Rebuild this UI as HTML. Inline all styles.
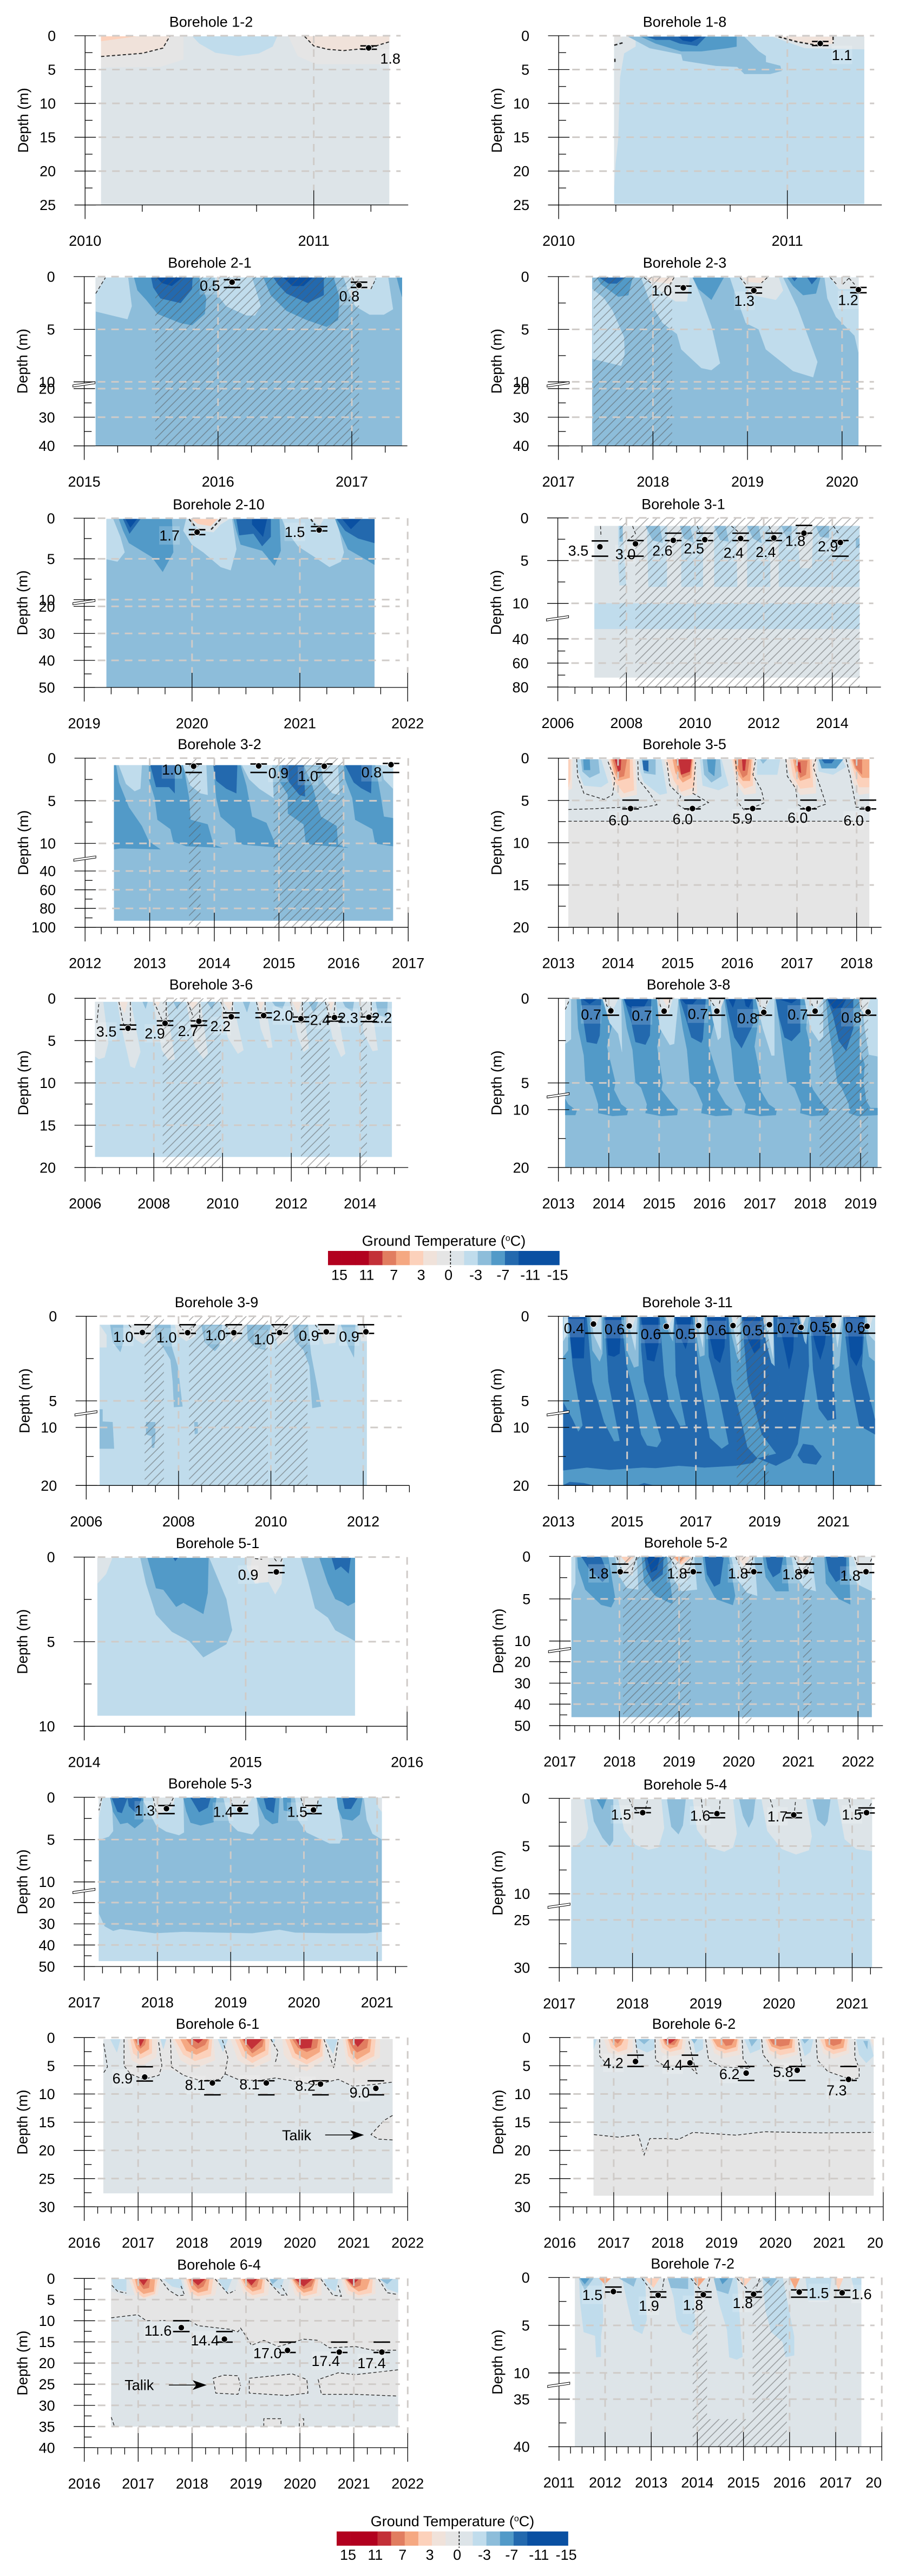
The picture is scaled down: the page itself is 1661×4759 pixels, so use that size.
<!DOCTYPE html>
<html lang="en">
<head>
<meta charset="utf-8">
<title>Borehole ground temperature</title>
<style>
html,body{margin:0;padding:0;background:#fff;width:1661px;height:4759px;overflow:hidden}
svg{display:block;font-family:"Liberation Sans",sans-serif}
text{fill:#000}
</style>
</head>
<body>
<svg id="fig" xmlns="http://www.w3.org/2000/svg" width="1661" height="4759" viewBox="0 0 1661 4759">
<defs>
<pattern id="hatch" patternUnits="userSpaceOnUse" width="11.5" height="11.5" patternTransform="rotate(-45)">
<line x1="0" y1="5.7" x2="11.5" y2="5.7" stroke="#555" stroke-opacity="0.5" stroke-width="1.6"></line>
</pattern>
</defs>
</svg>
<script>
/* Time values are years since the start of each panel's axis; depths are metres. Bands: [temperature, [t,d,t,d,...]] */
const legendTemps=[16,14,12,10,8,6,4,2,0.5,-0.5,-2,-4,-6,-8,-10,-12,-14];
const legendColors=['#b2011f','#b2011f','#b2011f','#c33038','#e17d60','#f5a882','#fcd1bb','#f0e2da','#e5e5e5','#dde4e8','#c0dcec','#8dbdda','#529ac8','#2369ae','#0a50a2','#0a50a2','#0a50a2'];
const legendTicks=['15','11','7','3','0','-3','-7','-11','-15'];

/* Borehole 1-2 */
const b12XTicks=[2010,2011];
const b12YTicks=[0,5,10,15,20,25];
const b12YMinor=[2.5,7.5,12.5,17.5,22.5];
const b12Knots=[0,25];
const b12KnotPos=[0,1];
const b12Bands=[[-0.5,[.07,.1,1.33,.1,1.33,25,.07,25]],
[0.5,[.07,.1,.43,.1,.43,3.5,.33,4.6,.07,4.7]],
[2,[.07,.1,.37,.1,.34,1.83,.25,2.6,.07,3.07]],
[4,[.07,.1,.22,.1,.07,.8]],
[-2,[.47,.1,.84,.1,.82,1.6,.76,2.6,.67,3,.57,2.5,.5,1.15]],
[0.5,[.89,.1,1.33,.1,1.33,4.2,1.01,4.2,.93,3]],
[2,[.96,.1,1.33,.1,1.33,.9,1.24,1.83,1.13,2.2,1.06,2,1,1.5]]];
const b12Hatch=[];
const b12Iso=[[.07,3.07,.25,2.6,.34,1.83,.37,.1],[.96,.1,1,1.5,1.06,2,1.13,2.2,1.24,1.83,1.33,.9]];
const b12AltYear=[1.24];
const b12AltDepth=[1.8];
const b12AltTop=[1.5];
const b12AltBase=[2];
const b12AltText=['1.8'];
const b12LabelDx=[40];
const b12LabelDy=[19.5];

/* Borehole 1-8 */
const b18XTicks=[2010,2011];
const b18YTicks=[0,5,10,15,20,25];
const b18YMinor=[2.5,7.5,12.5,17.5,22.5];
const b18Knots=[0,25];
const b18KnotPos=[0,1];
const b18Bands=[[-2,[.243,.15,1.336,.15,1.336,24.85,.243,24.85]],
[-0.5,[.243,.15,.336,.15,.336,1.6,.286,2.6,.268,6.2,.26,15.4,.248,19,.243,22.2]],
[0.5,[.243,.15,.28,.15,.243,1.4]],
[-4,[.305,.15,.812,.15,.875,2.3,.906,3,.906,3.9,.969,4.45,.975,5.2,.925,5.65,.812,5.65,.781,4.6,.687,4.45,.543,3.67,.536,2.75,.398,1.83,.336,.7]],
[-6,[.361,.15,.778,.15,.778,1.6,.737,1.83,.624,2.3,.536,2.3,.424,1.15]],
[-8,[.386,.15,.643,.15,.605,1.5,.53,1.15,.486,.6,.424,.6]],
[-10,[.524,.15,.624,.15,.58,.9,.543,.7]],
[-0.5,[.937,.15,1.336,.15,1.336,2,1.075,1.83,1,.9]],
[2,[.962,.15,1.2,.15,1.2,1.15,1.144,1.5,1.044,.9]]];
const b18Hatch=[];
const b18Iso=[[.962,.15,1.044,.9,1.144,1.5],[1.2,.15,1.2,1.15],[.243,1.4,.28,1.05],[.246,3.4,.246,4.1]];
const b18AltYear=[1.144];
const b18AltDepth=[1.15];
const b18AltTop=[.85];
const b18AltBase=[1.45];
const b18AltText=['1.1'];
const b18LabelDx=[40];
const b18LabelDy=[21];

/* Borehole 2-1 */
const b21XTicks=[2015,2016,2017];
const b21YTicks=[0,5,10,20,30,40];
const b21YMinor=[2.5,7.5,25,35];
const b21Knots=[0,5,10,20,30,40];
const b21KnotPos=[0,.312,.622,.662,.831,1];
const b21Bands=[[-4,[.086,.1,2.375,.1,2.375,40,.086,40]],
[-2,[.086,.1,.328,.1,.355,2.8,.323,4.03,.086,3.3]],
[-0.5,[.086,.1,.158,.1,.086,1.6]],
[-6,[.373,.1,.859,.1,.912,2.06,.901,3.53,.805,4.6,.72,4.4,.548,3.53,.463,2.2,.398,1.3]],
[-8,[.501,.1,.809,.1,.805,1.18,.72,2.5,.57,2.06,.516,1.03]],
[-10,[.544,.1,.73,.1,.655,.88,.58,.6]],
[-2,[.976,.1,1.255,.1,1.319,2.8,1.276,3.68,1.212,3.68,1.062,2.8,.998,1.76]],
[-6,[1.34,.1,1.865,.1,1.908,2.06,1.897,4.1,1.812,4.76,1.662,4.1,1.512,3.24,1.394,1.76]],
[-8,[1.415,.1,1.79,.1,1.79,1.76,1.672,2.5,1.512,1.6,1.448,.73]],
[-10,[1.49,.1,1.705,.1,1.64,.88,1.555,.88]],
[-2,[1.94,.1,2.272,.1,2.308,3.09,2.24,3.6,2.133,3.6,2.026,2.8,1.972,1.32]],
[-6,[2.336,.1,2.375,.1,2.375,1.9,2.358,1.18]],
[-0.5,[2.004,.1,2.176,.1,2.143,1.18,2.036,1.18]]];
const b21Hatch=[[.531,2.054,0,40]];
const b21Iso=[[.086,1.6,.158,.1],[2.004,.1,2.036,.9],[2.143,1.18,2.18,.2]];
const b21AltYear=[1.105,2.054];
const b21AltDepth=[.53,.82];
const b21AltTop=[.3,.53];
const b21AltBase=[1.03,1.03];
const b21AltText=['0.5','0.8'];
const b21LabelDx=[-41,-18];
const b21LabelDy=[6,20];

/* Borehole 2-3 */
const b23XTicks=[2017,2018,2019,2020];
const b23YTicks=[0,5,10,20,30,40];
const b23YMinor=[2.5,7.5,25,35];
const b23Knots=[0,5,10,20,30,40];
const b23KnotPos=[0,.312,.622,.662,.831,1];
const b23Bands=[[-4,[.358,.1,3.173,.1,3.173,40,.358,40]],
[-2,[.36,1.18,.482,2.06,.573,3.24,.694,5.74,.7,7.35,.664,8.47,.36,7.8]],
[-2,[.876,.1,1.421,.1,1.512,2.06,1.618,4.7,1.709,8.24,1.618,8.88,1.512,8.68,1.3,6.9,1.255,5.44,1.103,4.4,.967,2.35]],
[-2,[1.815,.1,2.376,.1,2.527,2.94,2.739,8.1,2.694,9.56,2.482,8.97,2.194,6.9,2.118,5,1.982,4.4,1.876,1.76]],
[-2,[2.815,.1,3.173,.1,3.173,7.2,3.133,5.6,2.936,3.82,2.845,2.06]],
[-0.5,[.906,.1,1.39,.1,1.36,2.35,1.24,2.35,.997,.88]],
[2,[.936,.1,1.224,.1,1.19,.7,.99,.45]],
[-0.5,[1.921,.1,2.33,.1,2.376,1.32,2.3,2.2,2.058,1.76,1.967,.88]],
[2,[1.95,.1,2.2,.1,2.15,.6,2,.5]],
[-0.5,[2.876,.1,3.173,.1,3.173,1.18,2.967,1.18]],
[-6,[.406,.1,.785,.1,.739,1.76,.633,1.9,.452,.73]],
[-8,[.436,.1,.694,.1,.618,.65,.527,.65]],
[-6,[1.421,.1,1.748,.1,1.618,2.2,1.482,1.18]],
[-6,[2.421,.1,2.77,.1,2.724,1.6,2.588,1.76,2.482,.88]],
[-8,[2.467,.1,2.527,.1,2.497,.44]],
[-8,[2.633,.1,2.74,.1,2.68,.73]]];
const b23Hatch=[[.373,1.203,0,40]];
const b23Iso=[[.906,.09,.997,.74],[1.224,.09,1.179,.74],[1.921,.09,1.982,.74],[2.209,.09,2.148,.59],[2.876,.09,2.952,.82],[3.073,.15,2.997,.82],[3.073,.15,3.133,.74]];
const b23AltYear=[1.321,2.067,3.173];
const b23AltDepth=[1.06,1.32,1.24];
const b23AltTop=[.9,1.03,1.03];
const b23AltBase=[1.53,1.56,1.53];
const b23AltText=['1.0','1.3','1.2'];
const b23LabelDx=[-40,-17.5,-19];
const b23LabelDy=[5,19,19];

/* Borehole 2-10 */
const b210XTicks=[2019,2020,2021,2022];
const b210YTicks=[0,5,10,20,30,40,50];
const b210YMinor=[2.5,7.5,25,35,45];
const b210Knots=[0,5,10,20,30,40,50];
const b210KnotPos=[0,.24,.481,.521,.681,.84,1];
const b210Bands=[[-4,[.207,.1,2.692,.1,2.692,50,.207,50]],
[-2,[.207,.1,.268,.1,.335,2.3,.375,4.2,.308,5.34,.207,5.04]],
[-2,[.919,1.53,.946,.1,1.371,.1,1.411,3.82,1.358,6.4,1.265,6,1.105,4.2,.999,3.24]],
[-2,[1.836,.1,2.341,.1,2.408,4.2,2.381,5.34,2.275,6,2.115,4.58,1.982,3.44,1.876,1.53]],
[-6,[.322,.1,.813,.1,.826,4.2,.728,6.6,.627,4.77,.415,3.05,.361,1.53]],
[-8,[.361,.1,.521,.1,.42,1.9]],
[-10,[.383,.1,.489,.1,.428,1.15]],
[-6,[1.385,.1,1.81,.1,1.823,4,1.765,5.84,1.65,4,1.451,3.24,1.411,1.53]],
[-8,[1.411,.1,1.73,.1,1.73,2.29,1.65,3.44,1.57,1.9,1.438,2.1]],
[-10,[1.557,.1,1.695,.1,1.658,2.29,1.557,.76]],
[-6,[2.328,.1,2.692,.1,2.692,5.73,2.607,5.04,2.447,3.82,2.368,1.53]],
[-8,[2.341,.1,2.692,.1,2.692,3.05,2.54,2.48,2.42,1.53]],
[-10,[2.394,.1,2.567,.1,2.474,1.34]],
[-0.5,[.973,.1,1.345,.1,1.265,.76,1.199,1.72,1.079,1.53]],
[4,[.999,.1,1.238,.1,1.172,.95,1.052,.69]],
[-0.5,[2.102,.1,2.222,.1,2.182,.95]]];
const b210Hatch=[];
const b210Iso=[[.973,.11,1.025,.95],[1.265,.11,1.172,1.45],[2.102,.11,2.142,.84]];
const b210AltYear=[1.047,2.179];
const b210AltDepth=[1.72,1.45];
const b210AltTop=[1.41,1.03];
const b210AltBase=[2.02,1.56];
const b210AltText=['1.7','1.5'];
const b210LabelDx=[-51,-45];
const b210LabelDy=[6,3.5];

/* Borehole 3-1 */
const b31XTicks=[2006,2008,2010,2012,2014];
const b31YTicks=[0,5,10,40,60,80];
const b31YMinor=[2.5,7.5,50,70];
const b31Knots=[0,5,10,40,60,80];
const b31KnotPos=[0,.252,.505,.715,.858,1];
const b31Bands=[[-0.5,[1.069,.95,8.793,.95,8.793,72,1.069,72]],
[-2,[1.069,10,8.793,10,8.793,31.6,1.069,31.6]],
[-2,[1.76,.95,1.88,.95,1.99,7.9,1.8,7.9,1.76,5.5]],
[-2,[2.6,.95,3.18,.95,3.18,8.07,2.64,8.07]],
[-2,[3.6,.95,4.23,.95,4.23,8.07,3.6,8.07]],
[-2,[4.56,.95,5.19,.95,5.23,8.07,4.56,8.07]],
[-2,[5.52,.95,6.19,.95,6.19,8.07,5.52,8.07]],
[-2,[6.44,.95,8.79,.95,8.79,8.07,6.44,8.07]],
[-0.5,[6.98,.95,7.44,.95,7.4,5.88,7.06,5.88]],
[-4,[1.8,.95,1.89,.95,1.89,2.77,1.8,2.77]],
[-4,[2.56,.95,2.97,.95,3.06,2.96,2.76,2.6]],
[-4,[3.56,.95,3.85,.95,3.97,2.96,3.68,2.4]],
[-4,[4.56,.95,4.89,.95,4.98,2.77,4.73,2.6]],
[-4,[5.52,.95,5.85,.95,5.94,2.96,5.69,2.4]],
[-4,[6.52,.95,6.81,.95,6.81,2.77,6.65,2.2]],
[-4,[7.52,.95,7.9,.95,7.9,2.4,7.65,2.2]],
[-4,[8.69,2.4,8.79,2.4,8.79,3.5,8.69,3.5]]];
const b31Hatch=[[1.8,1.99,0,80],[2.26,8.8,0,80]];
const b31Iso=[[1.244,.95,1.26,2.23],[2.18,.95,2.263,1.86,2.054,2.59],[4.06,.95,4.14,1.68],[5.06,.95,5.27,1.68],[6.15,.95,6.27,1.86],[8.03,.95,8.19,1.86]];
const b31AltYear=[1.228,2.263,3.365,4.284,5.328,6.296,7.173,8.234];
const b31AltDepth=[3.39,3.03,2.63,2.55,2.41,2.34,1.79,2.88];
const b31AltTop=[2.7,2.66,1.79,1.79,1.79,1.79,.88,2.66];
const b31AltBase=[4.49,4.49,2.66,2.66,2.66,2.66,1.79,4.49];
const b31AltText=['3.5','3.0','2.6','2.5','2.4','2.4','1.8','2.9'];
const b31LabelDx=[-40,-18.5,-20,-20,-13,-15,-16,-23];
const b31LabelDy=[7,19,19,16,26,26,14,7];

/* Borehole 3-2 */
const b32XTicks=[2012,2013,2014,2015,2016,2017];
const b32YTicks=[0,5,10,40,60,80,100];
const b32YMinor=[2.5,7.5,50,70,90];
const b32Knots=[0,5,10,40,60,80,100];
const b32KnotPos=[0,.252,.504,.667,.778,.888,1];
const b32Bands=[[-4,[.448,.84,4.765,.84,4.765,93,.448,93]],
[-6,[.448,.84,.448,16.4,.545,15.3,1.166,16.4,.988,9.78,.878,7.96,.678,5.77,.523,2.85,.479,.84]],
[-6,[.988,.84,1.52,.84,1.609,4.67,1.631,7.23,1.897,7.77,1.986,11.3,2.119,14.7,1.565,13,1.365,9.78,1.321,8.32,1.121,7.23,1.077,4.67,.988,2.48]],
[-6,[1.986,.84,2.407,.84,2.496,3.21,2.584,6.86,2.806,7.59,2.939,10,3.05,14.7,2.451,11.3,2.34,9.78,2.318,8.32,2.097,6.86,2.03,4.67]],
[-6,[3.005,.84,3.382,.84,3.515,3.21,3.648,6.86,3.892,7.96,3.914,11.3,4.069,14.7,3.515,11.3,3.417,10,3.382,7.77,3.138,6.5,3.138,4.31,3.005,2.66]],
[-6,[4.003,.84,4.49,.84,4.579,4.67,4.623,6.86,4.765,7.04,4.765,13,4.49,10,4.446,8.32,4.18,7.23,4.136,4.67,4.025,2.48]],
[-8,[1.011,.84,1.387,.84,1.387,4.12,1.299,3.39,1.099,3.39]],
[-8,[1.986,.84,2.354,.84,2.34,4.12,2.185,3.58,2.03,2.66]],
[-8,[3.05,.84,3.382,.84,3.404,4.49,3.316,4.31,3.16,2.85,3.05,1.39]],
[-8,[4.025,.84,4.437,.84,4.424,4.12,4.269,3.5,4.158,2.85]],
[-2,[.523,.84,.878,.84,.855,3.58,.767,3.87,.634,3.03]],
[-2,[1.52,.84,1.875,.84,1.897,4.31,1.786,4.12,1.631,3.21,1.52,1]],
[-2,[2.429,.84,2.895,.84,2.917,4.67,2.695,3.58,2.54,2.48]],
[-2,[3.648,.84,3.914,.84,3.936,4.31,3.825,4.12,3.692,2.85]],
[-2,[4.579,.84,4.765,.84,4.765,3.58,4.623,2.48]]];
const b32Hatch=[[1.609,1.786,0,100],[2.917,4.003,0,100]];
const b32Iso=[];
const b32AltYear=[1.68,2.686,3.701,4.734];
const b32AltDepth=[.95,.91,.95,.77];
const b32AltTop=[.69,.69,.69,.62];
const b32AltBase=[1.68,1.68,1.68,1.68];
const b32AltText=['1.0','0.9','1.0','0.8'];
const b32LabelDx=[-40,36.5,-30,-36];
const b32LabelDy=[6,13,18,14];

/* Borehole 3-5 */
const b35XTicks=[2013,2014,2015,2016,2017,2018];
const b35YTicks=[0,5,10,15,20];
const b35YMinor=[2.5,7.5,12.5,17.5];
const b35Knots=[0,20];
const b35KnotPos=[0,1];
const b35Bands=[[0.5,[.168,.15,5.211,.15,5.211,20,.168,20]],
[-0.5,[.168,.15,5.211,.15,5.211,7.46,.168,7.46]],
[-2,[.322,.15,.716,.15,.836,2.87,.716,3.42,.427,3.24,.307,1.03]],
[-2,[1.364,.15,1.724,.15,1.82,4.15,1.7,4.34,1.436,2.87,1.364,1.4]],
[-2,[2.373,.15,2.733,.15,2.853,3.24,2.685,3.79,2.42,3.24]],
[-2,[3.333,.15,3.717,.15,3.67,1.95,3.333,1.95]],
[-2,[4.342,.15,4.75,.15,4.822,1.03,4.606,1.95,4.366,1.58]],
[-4,[.379,.15,.668,.15,.692,1.76,.524,2.32,.403,1.58]],
[-6,[.418,.15,.524,.15,.533,1.4,.427,1.4]],
[-4,[1.398,.15,1.628,.15,1.628,1.95,1.436,1.76]],
[-8,[1.412,.3,1.508,.3,1.508,1.58,1.427,1.4]],
[-4,[2.42,.15,2.71,.15,2.733,2.13,2.565,2.87,2.445,1.95]],
[-6,[2.493,.15,2.637,.15,2.613,2.13,2.517,1.58]],
[-4,[3.381,.15,3.5,.15,3.43,.66]],
[-6,[4.366,.15,4.774,.15,4.654,1.2,4.414,1.2]],
[-8,[4.414,.15,4.63,.15,4.582,.6,4.462,.6]],
[2,[.168,.15,.235,.15,.226,3.6,.168,3.79]],
[4,[.168,.15,.2,.15,.2,2.5,.168,3.42]],
[2,[.836,.15,1.292,.15,1.316,4.34,1.052,4.7,.908,3.24]],
[4,[.86,.15,1.244,.15,1.268,3.79,1.1,4.15,.956,2.87]],
[6,[.884,.15,1.196,.15,1.196,2.32,1.004,2.68,.932,1.58]],
[8,[.908,.15,1.148,.15,1.1,2.13,1.004,2.32]],
[10,[.946,.15,1.052,.15,1.042,1.4,1.004,1.58]],
[2,[1.772,.15,2.3,.15,2.325,4.15,2.108,4.52,1.892,3.24]],
[4,[1.82,.15,2.277,.15,2.277,3.42,2.06,3.97,1.94,2.68]],
[6,[1.916,.15,2.252,.15,2.228,2.32,2.084,2.87,1.964,1.76]],
[8,[1.964,.15,2.243,.15,2.205,1.95,2.084,2.32,2,1.2]],
[10,[2.012,.15,2.228,.15,2.205,1.58,2.06,1.95]],
[2,[2.9,.15,3.285,.15,3.31,4.15,3.117,4.34,2.973,2.87]],
[4,[2.925,.15,3.26,.15,3.26,3.24,3.117,3.6,2.997,2.5]],
[6,[2.95,.15,3.237,.15,3.213,2.68,3.093,2.68,2.997,1.76]],
[8,[2.997,.15,3.204,.15,3.165,1.95,3.093,2.32,3.02,1.2]],
[10,[3.08,.15,3.146,.15,3.127,1.47,3.093,1.47]],
[2,[3.813,.15,4.318,.15,4.318,4.15,4.054,4.34,3.91,2.87]],
[4,[3.886,.15,4.246,.15,4.27,3.42,4.054,3.6,3.934,2.13]],
[6,[3.934,.15,4.212,.15,4.222,2.32,4.054,2.68,3.982,1.76]],
[8,[3.972,.3,4.174,.3,4.15,1.95,4.054,2.32,4.006,1.2]],
[10,[4.006,.5,4.054,.5,4.068,1.76,4.03,1.58]],
[2,[4.87,.15,5.211,.15,5.211,4.15,5.04,4.34,4.94,2.87]],
[4,[4.894,.15,5.211,.15,5.211,3.42,5.04,3.42,4.967,1.95]],
[6,[4.918,.15,5.211,.15,5.211,2.32,5.09,2.32,4.967,1.2]],
[8,[4.942,.15,5.09,.15,5.09,1.95,4.99,1.2]]];
const b35Hatch=[];
const b35Iso=[[.307,.11,.322,2.13,.427,4.15,.764,4.89,.908,4.34,.946,2.5,.826,.3],
[.168,6.07,.572,5.99,1.052,5.81,1.436,5.81,1.652,5.51,1.532,4.15,1.34,2.5,1.33,.11],
[.168,7.46,5.211,7.46],
[1.82,.48,1.868,3.24,2.051,4.52,1.988,5.44,2.157,6.18,2.349,5.81,2.517,5.26,2.253,4.15,2.277,2.5,2.301,.48],
[2.973,.3,2.997,3.24,2.997,5.07,3.117,6.18,3.405,5.44,3.453,5.26,3.405,3.79,3.261,1.95,3.309,.11],
[3.814,.11,3.838,2.13,3.982,3.6,4.006,5.44,4.174,6.18,4.486,5.44,4.366,2.87,4.27,1.03,4.318,.11],
[4.822,.11,4.894,2.13,4.99,5.81,5.211,5.81]];
const b35AltYear=[1.21,2.248,3.257,4.193,5.19];
const b35AltDepth=[5.96,5.96,5.96,6,6];
const b35AltTop=[4.96,4.96,4.96,4.96,4.96];
const b35AltBase=[6,6,6,6,6];
const b35AltText=['6.0','6.0','5.9','6.0','6.0'];
const b35LabelDx=[-22,-18,-19,-20,-26.5];
const b35LabelDy=[21,19,18,16,21];

/* Borehole 3-6 */
const b36XTicks=[2006,2008,2010,2012,2014];
const b36YTicks=[0,5,10,15,20];
const b36YMinor=[2.5,7.5,12.5,17.5];
const b36Knots=[0,20];
const b36KnotPos=[0,1];
const b36Bands=[[-2,[.292,.43,8.924,.43,8.924,18.74,.292,18.74]],
[-0.5,[.292,.43,.526,.43,.676,5.27,.567,6.98,.4,7.19,.292,6.87]],
[-0.5,[.942,.43,1.334,.43,1.61,6.34,1.443,8.26,1.318,8.05,1.068,3.56]],
[-0.5,[1.985,.43,2.36,.43,2.61,7.19,2.44,7.36,2.235,6.13]],
[-0.5,[2.944,.43,3.36,.43,3.57,6.55,3.445,7.15,3.19,5.7]],
[-0.5,[3.945,.43,4.295,.43,4.61,6.13,4.445,6.55,4.153,4.63]],
[-0.5,[4.987,.43,5.24,.43,5.45,5.8,5.32,5.87,5.11,3.56]],
[-0.5,[5.97,.43,6.32,.43,6.51,5.9,6.36,6.34,6.197,4.63]],
[-0.5,[6.99,.43,7.28,.43,7.57,6.55,7.45,6.94,7.2,4.63]],
[-0.5,[7.99,.43,8.32,.43,8.515,6.13,8.365,6.23,8.115,4.2]],
[2,[.984,.43,1.234,.43,1.15,1.75]],
[2,[2.985,.43,3.28,.43,3.15,1.32]],
[2,[4.03,.43,4.32,.43,4.195,1.43]],
[2,[6.03,.43,6.28,.43,6.2,1.75]],
[2,[7.07,.43,7.24,.43,7.155,1.43]],
[2,[2.03,.43,2.18,.43,2.11,1]],
[2,[5.03,.43,5.21,.43,5.11,1.43]],
[-4,[1.676,.43,1.818,.43,1.76,1.22]],
[-4,[2.57,.43,2.78,.43,2.68,1.32]],
[-4,[3.545,.43,3.78,.43,3.695,1.32]],
[-4,[4.596,.43,4.8,.43,4.71,1.64]],
[-4,[5.446,.43,5.82,.43,5.74,1.22,5.53,.9]],
[-4,[6.51,.43,6.78,.43,6.655,1.75]],
[-4,[7.5,.43,7.82,.43,7.78,1.54,7.57,1]],
[-4,[8.46,.43,8.8,.43,8.78,2.28,8.53,1.96]]];
const b36Hatch=[[2.26,3.945,0,20],[6.28,7.114,0,20],[8.015,8.2,0,20]];
const b36Iso=[[.4,.68,.342,2.92],[.984,.43,1.109,2.92,1.251,4.1],[1.318,.43,1.318,3.14],[2,.43,2.235,2.5],[2.36,.43,2.36,2.5],[2.986,.43,3.153,2.28],[3.336,.68,3.336,2.5],[3.945,.43,4.112,1.75],[4.295,.43,4.279,1.64],[4.987,.43,5.054,1.64],[5.238,.43,5.238,1.43],[5.972,.43,6.072,2.18],[6.322,.43,6.322,2.18],[6.989,.43,7.114,2.18],[7.281,.43,7.239,1.96],[7.99,.43,8.073,2.18],[8.324,.43,8.324,1.96]];
const b36AltYear=[1.25,2.327,3.311,4.254,5.196,6.28,7.256,8.257];
const b36AltDepth=[3.54,2.95,2.71,2.18,2.03,2.41,2.28,2.24];
const b36AltTop=[3.16,2.67,2.67,1.73,1.73,2.22,2.2,2.2];
const b36AltBase=[3.67,3.2,3.2,2.28,2.28,2.75,2.7,2.75];
const b36AltText=['3.5','2.9','2.7','2.2','2.0','2.4','2.3','2.2'];
const b36LabelDx=[-40,-19,-20,-20,35.5,35.5,25,24];
const b36LabelDy=[6,18.7,17.7,17,0,2,0,.7];

/* Borehole 3-8 */
const b38XTicks=[2013,2014,2015,2016,2017,2018,2019];
const b38YTicks=[0,5,10,20];
const b38YMinor=[2.5,15];
const b38Knots=[0,5,10,20];
const b38KnotPos=[0,.5,.658,1];
const b38Bands=[[-4,[.137,.05,6.337,.05,6.337,20,.137,20]],
[-6,[.137,8,.194,9,.364,10.2,.336,10.94,.137,10.94]],
[-2,[.137,.02,.25,.02,.25,2.42,.137,2.69]],
[-6,[.364,.05,1.189,.05,.961,2.85,1.132,4.98,1.104,6.28,1.246,9,1.388,10,1.36,10.94,1.075,11.1,.791,10.6,.791,9,.677,5.6,.535,4.87,.506,3.38,.392,1.78]],
[-6,[1.274,.05,2.213,.05,1.957,2.85,2.071,4.98,2.042,6.28,2.27,9,2.372,10,2.355,10.94,2.042,11.1,1.729,10.6,1.758,9,1.644,5.9,1.53,4.98,1.473,3.05,1.36,1.78]],
[-6,[2.383,.05,3.208,.05,2.981,2.85,3.208,4.98,3.151,6.28,3.322,9,3.453,10,3.436,10.94,3.123,11.1,2.838,10.6,2.867,9,2.725,5.9,2.611,4.98,2.554,3.05,2.469,1.78]],
[-6,[3.293,.05,4.033,.05,3.891,2.85,4.033,4.98,4.005,6.28,4.175,9,4.335,10,4.318,10.94,4.005,11.1,3.692,10.6,3.72,9,3.55,5.6,3.493,4.87,3.436,3.05,3.379,1.78]],
[-6,[4.317,.05,4.972,.05,4.915,1.78,5,2.85,5,4.98,5.057,6.28,5.256,9,5.37,10,5.341,10.94,5.028,11.1,4.801,10.6,4.818,9,4.687,5.9,4.545,4.98,4.46,3.05,4.403,1.78]],
[-6,[5.313,.05,6.024,.05,5.967,2.85,6.081,3.91,6.053,4.98,6.081,6.28,6.109,8.3,6.195,9.7,6.337,9.7,6.337,10.94,5.939,11.1,5.768,10.6,5.768,9,5.626,5.9,5.54,4.98,5.455,3.38,5.37,1.78]],
[-8,[.449,.05,.848,.05,.819,2.2,.762,2.69,.563,2.58,.506,1.46]],
[-8,[1.303,.05,1.843,.05,1.815,2.2,1.729,2.74,1.53,2.58,1.445,1.35]],
[-8,[2.412,.05,2.924,.05,2.867,2.42,2.838,2.63,2.639,2.31,2.526,1.14]],
[-8,[3.322,.05,3.862,.05,3.862,1.57,3.635,2.95,3.493,2.31,3.379,.93]],
[-8,[4.317,.05,4.801,.05,4.801,1.99,4.63,2.53,4.488,2.31,4.374,1.03]],
[-8,[5.341,.05,5.853,.05,5.853,1.78,5.711,3.11,5.569,2.53,5.455,1.03]],
[-10,[.478,.05,.762,.05,.62,.34]],
[-10,[1.303,.05,1.786,.05,1.701,.5,1.473,.6,1.36,.4]],
[-10,[2.44,.05,2.753,.05,2.668,.34,2.526,.34]],
[-10,[3.379,.05,3.521,.05,3.464,.55]],
[-10,[3.692,.05,3.851,.05,3.777,.55,3.72,.45]],
[-10,[4.374,.05,4.744,.05,4.63,.29]],
[-10,[5.341,.05,5.711,.05,5.626,.55,5.455,.6]],
[-2,[.876,.02,1.246,.02,1.263,3.17,1.189,2.1,1.018,1.46]],
[-2,[1.957,.02,2.383,.02,2.298,2.69,2.213,2.76,2.014,1.78]],
[-2,[3.009,.02,3.237,.02,3.225,2.31,3.168,2.47,3.066,1.25]],
[-2,[3.919,.02,4.289,.02,4.289,3.38,4.232,3.38,4.061,1.78]],
[-2,[4.886,.02,5.256,.02,5.256,2.26,5.17,2.53,5,1.78]],
[-2,[6.024,.02,6.337,.02,6.337,3.43,6.166,3.33,6.081,1.78]],
[-0.5,[.876,.02,1.189,.02,1.104,.55,.933,.39]],
[-0.5,[1.957,.02,2.27,.02,2.184,.93,2.042,.6]],
[-0.5,[2.981,.02,3.293,.02,3.208,.71,3.094,.39]],
[-0.5,[3.948,.02,4.204,.02,4.09,.71,4.005,.45]],
[-0.5,[4.943,.02,5.256,.02,5.114,.6,5.028,.34]],
[-0.5,[5.967,.02,6.195,.02,6.081,.98,5.995,.6]],
[-0.5,[.137,.02,.222,.02,.137,.71]],
[2,[2.07,.02,2.24,.02,2.156,.45]]];
const b38Hatch=[[5.188,6.149,0,20]];
const b38Iso=[[.933,.02,.961,.45,1.047,.55],[1.985,.02,2.042,.6,2.127,.87],[2.213,.07,2.184,.66],[2.998,.02,3.094,.45],[3.208,.13,3.191,.39],[3.948,.02,4.005,.45,4.119,.6],[4.147,.13,4.119,.45],[4.989,.02,5.046,.45],[5.142,.13,5.131,.45],[5.978,.02,6.024,.55],[.137,.66,.222,.07]];
const b38AltYear=[1.041,2.099,3.146,4.078,5.097,6.149];
const b38AltDepth=[.74,.76,.76,.83,.76,.81];
const b38AltTop=[0,0,0,0,0,0];
const b38AltBase=[1,1,1,1,1,1];
const b38AltText=['0.7','0.7','0.7','0.8','0.7','0.8'];
const b38LabelDx=[-36.5,-41,-35,-30,-32,-31];
const b38LabelDy=[6.7,8,4.7,11,6,9.7];

/* Borehole 3-9 */
const b39XTicks=[2006,2008,2010,2012];
const b39YTicks=[0,5,10,20];
const b39YMinor=[2.5,15];
const b39Knots=[0,5,10,20];
const b39KnotPos=[0,.5,.657,1];
const b39Bands=[[-2,[.292,.51,6.077,.51,6.077,20,.292,20]],
[-4,[.521,.51,.8,.51,.8,1.56,.738,2.11,.583,1.56]],
[-4,[1.484,.51,1.825,.51,1.856,1.84,1.98,2.94,2.086,6.06,1.9,6.18,1.875,3.86,1.825,2.57,1.67,1.84,1.515,1.38]],
[-4,[2.495,.51,2.942,.51,2.88,1.75,2.787,2.06,2.57,1.56]],
[-4,[3.482,.51,3.997,.51,3.873,1.99,3.656,1.84,3.5,1.38]],
[-4,[4.475,.51,4.804,.51,4.866,2.2,5.084,6.06,4.897,6.35,4.835,2.94,4.711,2.02,4.525,1.47]],
[-4,[5.518,.51,5.829,.51,5.798,2.43,5.674,1.75]],
[-4,[.292,6.6,.354,6.6,.354,8.9,.571,9,.602,13.66,.292,13.66]],
[-4,[1.297,9,1.496,9,1.496,11.5,1.471,13.5,1.421,13.5,1.421,11.5,1.297,11.2]],
[-4,[2.34,9,2.415,9,2.415,11,2.353,11.2]],
[-0.5,[.292,.51,.44,1.1,.44,1.84,.292,1.84]],
[-0.5,[.956,.51,1.484,.51,1.39,1.29,1.234,1.65,1.08,1.38,.956,.92]],
[-0.5,[1.918,.51,2.446,.51,2.353,1.2,2.166,1.47,1.98,1.1]],
[-0.5,[3.035,.51,3.44,.51,3.346,1.2,3.19,1.56]],
[-0.5,[4.028,.51,4.463,.51,4.37,1.38,4.153,1.75]],
[-0.5,[5.02,.51,5.455,.51,5.394,1.56,5.146,1.65]],
[-0.5,[5.89,.51,6.077,.51,6.077,1.47,5.953,1.47]]];
const b39Hatch=[[1.266,1.682,0,20],[2.228,3.935,0,20],[4.09,4.792,0,20]];
const b39Iso=[[.925,.51,.999,.74],[1.359,.51,1.31,.74],[2.011,.51,2.104,.83],[2.353,.51,2.278,.83],[3.004,.51,3.097,.74],[4.028,.51,4.12,.83],[4.34,.55,4.25,.83],[4.96,.51,5.05,.83],[6.015,.51,6.03,.83]];
const b39AltYear=[1.217,2.197,3.197,4.19,5.2,6.058];
const b39AltDepth=[.96,.97,.97,.97,.92,.92];
const b39AltTop=[.5,.5,.5,.5,.5,.5];
const b39AltBase=[1.01,1.01,1.01,1.01,1.01,1.01];
const b39AltText=['1.0','1.0','1.0','1.0','0.9','0.9'];
const b39LabelDx=[-35.5,-39,-34,-29,-32,-31];
const b39LabelDy=[8,8.6,4.6,12,7,8.6];

/* Borehole 3-11 */
const b311XTicks=[2013,2015,2017,2019,2021];
const b311YTicks=[0,5,10,20];
const b311YMinor=[2.5,15];
const b311Knots=[0,5,10,20];
const b311KnotPos=[0,.5,.657,1];
const b311Bands=[[-6,[.142,.05,9.207,.05,9.207,20,.142,20]],
[-8,[.14,.05,6.29,.05,6.41,3.86,6.58,8.4,6.16,13.9,5.79,15.3,5.66,16.1,5.16,16.6,4.25,16.9,3.5,16.6,2.83,17,2.45,16.9,1.49,17.3,.83,16.9,.14,17.4]],
[-8,[6.29,.05,7.25,.05,7.29,2.94,6.96,12.85,6.75,15.3,6.33,16.6,5.79,15.3,6.16,13.9,6.58,8.4,6.41,3.86]],
[-8,[7.33,.05,7.96,.05,8,3.86,8.08,8.4,7.83,8.7,7.58,6.5,7.41,3.13]],
[-8,[8.29,.05,8.92,.05,8.83,2.94,9.21,8.4,9.21,11.2,8.75,9.6,8.5,3.86]],
[-8,[7.12,12.85,7.41,13.1,7.66,15,7.5,16.4,7.12,16.1,6.96,14.8]],
[-8,[.14,19.95,.33,19.4,.74,19.6,.99,19.95]],
[-8,[2.33,19.95,2.49,19.6,2.74,19.95]],
[-6,[.14,.05,.28,.05,.41,2.94,.7,9.6,.58,10.7,.41,8.4,.14,5.18]],
[-6,[.83,.05,1.33,.05,1.45,3.86,1.78,12.3,1.62,12.4,1.33,9,.99,3.86]],
[-6,[1.83,.05,2.37,.05,2.41,2.02,2.49,3.86,2.99,12.3,2.87,13.4,2.58,13.1,2.41,11.2,2.24,4.96,1.99,2.94]],
[-6,[2.95,.05,3.37,.05,3.41,3.49,3.7,9.6,3.54,9.7,3.24,6.06,3.08,3.49]],
[-6,[3.91,.05,4.33,.05,4.37,2.39,4.66,4.6,4.95,12.85,4.75,13.66,4.41,11.8,4.16,4.23]],
[-6,[4.95,.05,5.33,.05,5.5,3.86,5.91,11.2,6.33,14.5,5.79,15.3,5.5,13.4,5.33,8.95,5.04,3.86]],
[-10,[.28,.05,.78,.05,.74,2.48,.41,2.48,.33,.92]],
[-10,[1.37,.05,1.83,.05,1.78,2.2,1.62,2.39,1.45,2.3]],
[-10,[2.41,.05,2.91,.05,2.91,1.65,2.79,2.67,2.58,2.57,2.49,1.1]],
[-10,[3.41,.05,3.87,.05,3.79,1.29,3.7,1.93,3.54,1.2]],
[-10,[4.33,.05,4.87,.05,4.83,1.84,4.7,2.76,4.54,2.48,4.37,.92]],
[-10,[5.37,.05,5.87,.05,5.87,1.84,5.7,2.2,5.54,1.47,5.41,.74]],
[-10,[6.41,.05,6.87,.05,6.83,2.02,6.71,3.13,6.5,1.1]],
[-10,[7.33,.05,7.83,.05,7.75,1.65,7.62,2.57,7.5,1.84,7.37,.74]],
[-10,[8.37,.05,8.87,.05,8.83,2.2,8.67,2.94,8.5,2.39,8.42,.74]],
[-4,[.14,.05,.28,.05,.28,2.02,.14,2.39]],
[-4,[.91,.05,1.28,.05,1.28,2.2,1.2,2.67,.99,2.02]],
[-4,[1.91,.05,2.33,.05,2.33,2.94,2.2,3.03,1.99,2.02]],
[-4,[3.08,.05,3.37,.05,3.33,1.47,3.24,1.1]],
[-4,[3.99,.05,4.27,.05,4.25,2.3,4.12,2.39,3.99,.74]],
[-4,[4.95,.05,5.33,.05,5.29,2.76,5.2,2.39,5.04,1.1]],
[-4,[5.95,.05,6.25,.05,6.29,2.94,6.2,2.76,6.04,1.47]],
[-4,[7,.05,7.29,.05,7.21,1.65,7.16,1.47]],
[-4,[7.96,.05,8.29,.05,8.17,2.94,8.04,3.13,7.96,.92]],
[-4,[8.92,.05,9.21,.05,9.21,2.67,9.04,2.39,8.96,1.29]],
[-2,[.95,.05,1.24,.05,1.24,2.02,1.03,1.1]],
[-2,[1.98,.05,2.29,.05,2.24,2.02,2.08,.74]],
[-2,[4.04,.05,4.25,.05,4.2,1.84,4.08,.74]],
[-2,[5.04,.05,5.29,.05,5.25,2.2,5.12,.92]],
[-2,[6,.05,6.25,.05,6.25,2.48,6.08,.92]],
[-2,[8,.05,8.25,.05,8.12,1.84,8.04,.55]],
[-2,[8.96,.05,9.21,.05,9.21,1.47,9.04,1.1]],
[-2,[.16,.05,.28,.05,.24,1.1,.14,1.47]],
[-2,[3.12,.05,3.37,.05,3.31,1.1]],
[-0.5,[.95,.05,1.2,.05,1.08,.6]],
[-0.5,[2,.05,2.25,.05,2.12,.8]],
[-0.5,[3.14,.05,3.33,.05,3.2,.6]],
[-0.5,[4.05,.05,4.22,.05,4.12,.7]],
[-0.5,[5.05,.05,5.25,.05,5.12,.7]],
[-0.5,[6.04,.05,6.24,.05,6.12,.7]],
[-0.5,[7.04,.05,7.2,.05,7.1,.6]],
[-0.5,[8,.05,8.2,.05,8.1,.7]],
[-0.5,[8.97,.05,9.15,.05,9.05,.7]]];
const b311Hatch=[[5.19,6.12,0,20]];
const b311Iso=[];
const b311AltYear=[1.02,2.06,3.14,4.08,5.08,6.14,7.06,8,8.98];
const b311AltDepth=[.46,.57,.6,.55,.55,.5,.66,.55,.59];
const b311AltTop=[0,0,0,0,0,0,0,0,0];
const b311AltBase=[1,1,1,1,1,1,1,1,1];
const b311AltText=['0.4','0.6','0.6','0.5','0.6','0.5','0.7','0.5','0.6'];
const b311LabelDx=[-36,-27,-28.6,-24,-31,-31,-25,-25,-22];
const b311LabelDy=[7.5,6,14,15,8,10,1,2,2];

/* Borehole 5-1 */
const b51XTicks=[2014,2015,2016];
const b51YTicks=[0,5,10];
const b51YMinor=[2.5,7.5];
const b51Knots=[0,10];
const b51KnotPos=[0,1];
const b51Bands=[[-2,[.082,.05,1.677,.05,1.677,9.37,.082,9.37]],
[-0.5,[.082,.05,.174,.05,.135,1,.082,1.56]],
[-0.5,[1.008,.05,1.231,.05,1.222,1.56,1.183,2.2,1.142,1.47,1.058,1.56,1.008,.64]],
[0.5,[1.04,.05,1.147,.05,1.138,1.47,1.058,1.47,1.031,.64]],
[-4,[.348,.05,.774,.05,.88,2.48,.916,4.32,.88,5.15,.738,5.92,.65,4.96,.543,4.41,.445,3.4,.383,1.56]],
[-6,[.392,.05,.77,.05,.765,2.11,.738,3.36,.614,2.7,.57,2.94,.49,1.93,.445,1.84]],
[-8,[.552,.05,.579,.05,.564,.24]],
[-4,[1.345,.05,1.677,.05,1.677,4.96,1.555,4.32,1.51,3.58,1.43,3.03,1.386,1.38]],
[-6,[1.457,.05,1.677,.05,1.677,2.67,1.634,2.89,1.6,2.67,1.555,2.48,1.51,1.56]],
[-8,[1.533,.05,1.65,.05,1.638,.97,1.59,.55,1.555,.77]]];
const b51Hatch=[];
const b51Iso=[[1.058,.09,1.102,.13],[1.178,.09,1.196,.31],[1.226,.09,1.217,.28]];
const b51AltYear=[1.19];
const b51AltDepth=[.88];
const b51AltTop=[.5];
const b51AltBase=[.92];
const b51AltText=['0.9'];
const b51LabelDx=[-52];
const b51LabelDy=[5];

/* Borehole 5-2 */
const b52XTicks=[2017,2018,2019,2020,2021,2022];
const b52YTicks=[0,5,10,20,30,40,50];
const b52YMinor=[2.5,7.5,25,35,45];
const b52Knots=[0,5,10,20,30,40,50];
const b52KnotPos=[0,.251,.5,.622,.749,.873,1];
const b52Bands=[[-4,[.197,.1,5.23,.1,5.23,46,.197,46]],
[-2,[.197,.05,.26,.05,.26,3.2,.197,4.45]],
[-2,[.93,.05,1.29,.05,1.316,3.9,1.124,3.72,.98,2.1]],
[-2,[1.868,.05,2.252,.05,2.3,3.9,2.036,4.09,1.892,2.45]],
[-2,[2.877,.05,3.262,.05,3.31,4.64,3.14,4.27,2.95,2.45]],
[-2,[3.886,.05,4.222,.05,4.294,4.09,4.1,3.72,3.934,1.9]],
[-2,[4.8,.05,5.23,.05,5.23,4.09,5.014,3.36,4.846,1.9]],
[-6,[.293,.05,.812,.05,.93,5,.86,6,.692,5.7,.427,3.9,.307,1.35]],
[-6,[1.374,.05,1.796,.05,1.892,5.4,1.868,5.55,1.604,4.64,1.412,3]],
[-6,[2.397,.05,2.829,.05,2.94,4.64,2.9,5.73,2.613,5,2.445,2.8]],
[-6,[3.405,.05,3.79,.05,3.838,4.09,3.62,4.09,3.453,2.45]],
[-6,[4.438,.05,4.846,.05,4.87,5.66,4.678,5,4.462,3.18]],
[-8,[.365,.05,.692,.05,.812,2.27,.716,3,.5,1.55]],
[-8,[1.422,.05,1.739,.05,1.724,2.1,1.556,3,1.45,1.55]],
[-8,[2.43,.05,2.747,.05,2.685,3.2,2.589,3.55,2.469,2.1]],
[-8,[3.453,.05,3.742,.05,3.694,1.9,3.574,2.45,3.487,1.35]],
[-8,[4.462,.05,4.8,.05,4.8,2.27,4.63,3,4.51,1.72]],
[-10,[1.46,.05,1.676,.05,1.628,1.55,1.532,1.9]],
[-0.5,[.98,.05,1.268,.05,1.22,2.27,1.076,1.9]],
[-0.5,[1.844,.05,2.228,.05,2.133,2.63,1.988,1.35]],
[-0.5,[2.949,.05,3.237,.05,3.165,2.1,3.045,1.72]],
[-0.5,[3.934,.05,4.222,.05,4.174,1.9,4.054,1.72]],
[-0.5,[4.918,.05,5.23,.05,5.23,1.9,5.014,2.1]],
[2,[2.973,.05,3.19,.05,3.093,1.17]],
[2,[3.982,.05,4.188,.05,4.1,.8]],
[4,[1.03,.05,1.244,.05,1.124,.8]],
[4,[1.892,.05,2.205,.05,2.036,1]],
[6,[1.916,.05,2.108,.05,2.012,.8]]];
const b52Hatch=[[1.06,2.195,0,49],[3.055,3.213,0,49],[4.078,4.222,0,49]];
const b52Iso=[[.956,.07,1.052,1.9],[1.292,.07,1.196,1.9],[1.844,.07,1.964,1.54],[2.228,.07,2.157,1.73],[2.949,.07,3.045,1.54],[3.237,.07,3.19,1.54],[3.934,.07,4.03,1.54],[4.236,.07,4.15,1.54],[4.942,.07,4.99,1],[5.23,.26,5.182,1]];
const b52AltYear=[1.013,2.238,3.252,4.126,5.134];
const b52AltDepth=[1.8,1.8,1.8,1.8,1.8];
const b52AltTop=[.9,.9,.9,.9,.9];
const b52AltBase=[1.9,1.9,1.9,1.9,1.9];
const b52AltText=['1.8','1.8','1.8','1.8','1.8'];
const b52LabelDx=[-40,-30,-29,-25,-29];
const b52LabelDy=[3,3,3,4.6,7];

/* Borehole 5-3 */
const b53XTicks=[2017,2018,2019,2020,2021];
const b53YTicks=[0,5,10,20,30,40,50];
const b53YMinor=[2.5,7.5,25,35,45];
const b53Knots=[0,5,10,20,30,40,50];
const b53KnotPos=[0,.25,.5,.622,.748,.873,1];
const b53Bands=[[-4,[.2,.1,4.063,.1,4.063,47.4,.2,47.4]],
[-2,[.2,25.3,.278,31.2,.395,33.4,.493,32.5,.963,34.5,1.354,33.8,1.824,34.2,2.294,34.5,2.665,32.8,2.88,34.2,3.39,34.5,3.859,34.5,4.063,33.8,4.063,47.4,.2,47.4]],
[-2,[.2,.05,.375,.05,.395,3.99,.337,4.64,.2,5.03]],
[-2,[.787,.05,1.354,.05,1.362,4.15,1.295,4.48,1.119,4.05,.982,3.33,.885,1.7]],
[-2,[1.902,.05,2.352,.05,2.391,3.33,2.294,4.38,2.098,3.99,1.98,3]],
[-2,[2.88,.05,3.448,.05,3.526,4.64,3.487,5.45,3.35,5.45,3.037,4.15,2.92,2.68]],
[-2,[3.82,.05,4.063,.05,4.063,4.97,3.937,4.31,3.859,2.68]],
[-6,[.356,.05,.806,.05,.806,2.84,.689,3.66,.591,3,.493,3.17,.395,1.7]],
[-6,[1.354,.05,1.804,.05,1.765,2.94,1.589,3.33,1.452,3,1.393,1.63]],
[-6,[2.352,.05,2.665,.05,2.646,3,2.567,3.17,2.47,2.52,2.391,1.05]],
[-6,[2.716,.05,2.822,.05,2.822,1.7,2.724,1.54]],
[-6,[3.448,.05,3.8,.05,3.761,2.03,3.663,2.75,3.526,2.52,3.468,1.37]],
[-8,[.376,.05,.591,.05,.513,1.86,.454,1.7]],
[-8,[.591,.05,.786,.05,.708,1.86,.61,1.05]],
[-8,[1.452,.05,1.726,.05,1.687,1.2,1.569,1.76]],
[-8,[2.45,.05,2.614,.05,2.587,1.86,2.489,1.37]],
[-8,[3.526,.05,3.734,.05,3.644,1.37,3.558,1.37]],
[-0.5,[.2,.05,.25,.05,.2,2.35]],
[-0.5,[.943,.05,1.237,.05,1.198,1.37,1.002,2.03,.943,1]],
[-0.5,[1.98,.05,2.294,.05,2.215,1.2,2.078,1.37]],
[-0.5,[2.959,.05,3.213,.05,3.135,1.54,2.998,1.2]],
[-0.5,[3.996,.05,4.063,.05,4.063,1.7,4.016,1.2]]];
const b53Hatch=[];
const b53Iso=[[.239,.07,.2,1.54],[.943,.07,.982,1.7],[1.217,.07,1.119,1.7],[2,.07,2.027,1.05],[2.196,.39,2.157,1.05],[2.959,.07,2.998,1.2],[3.194,.39,3.174,1.37]];
const b53AltYear=[1.123,2.125,3.131];
const b53AltDepth=[1.34,1.44,1.5];
const b53AltTop=[.98,.98,.98];
const b53AltBase=[1.93,1.93,1.93];
const b53AltText=['1.3','1.4','1.5'];
const b53LabelDx=[-40,-31,-30];
const b53LabelDy=[3,4,3];

/* Borehole 5-4 */
const b54XTicks=[2017,2018,2019,2020,2021];
const b54YTicks=[0,5,10,25,30];
const b54YMinor=[2.5,7.5,27.5];
const b54Knots=[0,5,10,25,30];
const b54KnotPos=[0,.282,.564,.718,1];
const b54Bands=[[-2,[.164,.1,4.27,.1,4.27,30,.164,30]],
[-0.5,[.164,.1,.337,.1,.395,3.12,.356,4.13,.219,5,.164,5.1]],
[-0.5,[.806,.1,1.393,.1,1.432,3.12,1.354,5.14,1.217,5.38,1.041,4.86,.885,3.27]],
[-0.5,[1.824,.1,2.372,.1,2.423,3.7,2.372,5.14,2.254,5.58,2.059,5.14,1.882,3.27]],
[-0.5,[2.763,.1,3.366,.1,3.448,3.99,3.409,5.43,3.233,5.87,3.037,5.29,2.841,3.41]],
[-0.5,[3.8,.1,4.27,.1,4.27,5.52,4.055,5.29,3.898,4.28]],
[-4,[.423,.1,.736,.1,.736,4.42,.689,5,.591,4.13,.474,2.4]],
[-4,[1.472,.1,1.726,.1,1.687,2.83,1.628,3.76,1.53,2.98]],
[-4,[2.458,.1,2.677,.1,2.646,2.11,2.587,3.06,2.509,1.82]],
[-4,[3.46,.1,3.703,.1,3.663,2.4,3.624,2.92,3.526,2.25]],
[-6,[.513,.1,.642,.1,.591,1.16]]];
const b54Hatch=[];
const b54Iso=[[.955,.09,1.002,.95,1.08,1.39],[1.205,.23,1.178,1.1],[1.941,.09,1.961,1.53],[2.196,.23,2.184,1.68],[2.881,.09,2.92,1.1],[3.225,.38,3.213,1.39],[3.957,.09,3.977,1.1],[4.262,.52,4.231,.95]];
const b54AltYear=[1.139,2.153,3.202,4.196];
const b54AltDepth=[1.5,1.6,1.73,1.5];
const b54AltTop=[1,1.53,1.53,1];
const b54AltBase=[1.5,2.02,2.02,1.53];
const b54AltText=['1.5','1.6','1.7','1.5'];
const b54LabelDx=[-40,-31,-30,-27];
const b54LabelDy=[3,3.5,2.5,3];

/* Borehole 6-1 */
const b61XTicks=[2016,2017,2018,2019,2020,2021,2022];
const b61YTicks=[0,5,10,15,20,25,30];
const b61YMinor=[2.5,7.5,12.5,17.5,22.5,27.5];
const b61Knots=[0,30];
const b61KnotPos=[0,1];
const b61Talik=[3.94,17.27,4.47,5.19];
const b61Bands=[[-0.5,[.356,.3,5.72,.3,5.72,27.6,.356,27.6]],
[0.5,[.739,.3,5.72,.3,5.72,7.9,5.298,8.39,4.979,8.63,4.713,7.41,4.5,7.9,4.287,8.39,3.862,7.66,3.543,7.17,3.223,7.66,2.851,7.41,2.612,6.44,2.532,7.41,2.16,7.66,1.84,6.68,1.617,5.7,1.46,5.7,1.388,6.68,1.096,7.41,.856,6.44,.739,5]],
[0.5,[5.72,13.8,5.56,14.7,5.32,17.2,5.46,18,5.72,18.15]],
[-2,[.484,.3,.67,.3,.606,2.63]],
[-2,[1.415,.3,1.52,.3,1.468,2.05]],
[-2,[2.48,.3,2.665,.3,2.574,2.5]],
[-2,[3.463,.3,3.54,.3,3.516,1.07]],
[-2,[4.473,.3,4.7,.3,4.617,2.9]],
[2,[.803,.3,1.362,.3,1.335,3.5,1.069,5,.883,4]],
[4,[.856,.3,1.255,.3,1.255,2.78,1.043,3.76,.91,2.78]],
[6,[.91,.3,1.202,.3,1.202,2.05,1.043,2.93,.963,1.8]],
[8,[.936,.3,1.149,.3,1.122,1.3,1.043,1.95,.979,1.07]],
[10,[1,.3,1.112,.3,1.043,1.56]],
[2,[1.628,.3,2.399,.3,2.426,4,2.053,5.46,1.787,4]],
[4,[1.681,.3,2.372,.3,2.346,3.27,2.053,4.15,1.84,3.02]],
[6,[1.787,.3,2.319,.3,2.293,2.05,2.08,3.02,1.894,2.3]],
[8,[1.894,.3,2.293,.3,2.24,1.3,2.08,2.05,1.973,1.3]],
[10,[2.01,.3,2.2,.3,2.117,1]],
[2,[2.718,.3,3.463,.3,3.463,4,3.117,5.46,2.851,4]],
[4,[2.798,.3,3.436,.3,3.41,3,3.117,4.5,2.93,3.27]],
[6,[2.878,.3,3.356,.3,3.356,2.3,3.117,3.5,2.984,2.54]],
[8,[2.93,.3,3.33,.3,3.303,1.56,3.117,2.78,3.01,1.56]],
[10,[2.957,.3,3.303,.3,3.106,2.05]],
[2,[3.676,.3,4.473,.3,4.447,4,4.128,5.95,3.862,5,3.702,3]],
[4,[3.729,.3,4.42,.3,4.42,3.27,4.128,4.73,3.862,3.5]],
[6,[3.809,.3,4.394,.3,4.367,2.54,4.128,3.9,3.915,2.78]],
[8,[3.862,.3,4.34,.3,4.314,1.8,4.128,2.54,3.968,1.8]],
[10,[3.926,.3,4.234,.3,4.207,1.8,4.021,1.95]],
[2,[4.793,.3,5.484,.3,5.484,3.5,5.059,5.95,4.872,4.5]],
[4,[4.846,.3,5.404,.3,5.378,3.27,5.059,4.73,4.899,3.27]],
[6,[4.883,.3,5.324,.3,5.298,2.54,5.059,3.9,4.952,2.78]],
[8,[4.899,.3,5.271,.3,5.245,1.8,5.059,2.63,4.98,1.8]],
[10,[4.968,.3,5.202,.3,5.074,1.65]]];
const b61Hatch=[];
const b61Iso=[[.361,1.07,.431,5.2,.356,6.3],[.739,.3,.739,5,.856,6.44,1.096,7.41,1.388,6.68,1.441,5,1.378,.6],[1.601,.3,1.617,5.2,1.84,6.68,2.16,7.66,2.532,7.41,2.612,6.44,2.665,3.5,2.559,.3],[2.612,6.44,2.851,7.41,3.223,7.66,3.543,7.17,3.862,7.66,4.287,8.39,4.5,7.9,4.713,7.41,4.979,8.63,5.298,8.39,5.72,7.9],[3.463,.3,3.596,2.5,3.543,4.5],[4.447,.3,4.633,5.46,4.713,.3],[5.72,13.8,5.56,14.7,5.32,17.2,5.46,18,5.72,18.15]];
const b61AltYear=[1.122,2.378,3.378,4.383,5.41];
const b61AltDepth=[7,8.05,8.05,8.24,9];
const b61AltTop=[5.17,7.66,7.66,7.66,7.66];
const b61AltBase=[7.7,10.15,10.15,10.15,10.15];
const b61AltText=['6.9','8.1','8.1','8.2','9.0'];
const b61LabelDx=[-41,-32,-31,-28,-30];
const b61LabelDy=[2.5,3.5,2.5,3,7.5];

/* Borehole 6-2 */
const b62XTicks=[2016,2017,2018,2019,2020,2021,2022];
const b62YTicks=[0,5,10,15,20,25,30];
const b62YMinor=[2.5,7.5,12.5,17.5,22.5,27.5];
const b62Knots=[0,30];
const b62KnotPos=[0,1];
const b62Bands=[[-0.5,[.628,.3,5.82,.3,5.82,28,.628,28]],
[0.5,[.633,17.2,1.085,17.66,1.457,17.2,1.564,20.8,1.67,17.9,1.99,17.9,2.2,18.05,2.47,16.8,3.27,17.3,3.8,16.7,4.86,16.9,5.82,16.8,5.82,28,.633,28]],
[0.5,[.739,.3,1.404,.3,1.457,4.5,1.245,5.07,.846,4.5,.739,3.27]],
[0.5,[1.766,.3,2.388,.3,2.468,4,2.548,6.44,2.415,5.2,1.936,5,1.777,4]],
[0.5,[2.707,.3,3.383,.3,3.4,3.76,3.532,5.46,3,5.2,2.76,4]],
[0.5,[3.745,.3,4.426,.3,4.49,5,4.277,5.7,3.93,5,3.77,3]],
[0.5,[4.755,.3,5.473,.3,5.473,3.5,5.553,5.46,5.553,7.17,5.394,7.41,4.97,6,4.78,4]],
[-2,[1.404,.3,1.75,.3,1.75,2.05,1.617,2.63,1.43,1.8]],
[-2,[2.468,.3,2.654,.3,2.654,2.05,2.52,2.78]],
[-2,[3.426,.3,3.718,.3,3.718,2.05,3.532,2.78]],
[-2,[4.463,.3,4.702,.3,4.649,2.54,4.543,3.27]],
[-2,[5.5,.3,5.74,.3,5.82,3.27,5.686,4.5,5.553,3.02]],
[-2,[.628,.3,.686,.3,.628,2.05]],
[-4,[1.457,.3,1.67,.3,1.564,1.17]],
[-4,[3.505,.3,3.665,.3,3.559,1.56]],
[-4,[2.44,.3,2.548,.3,2.495,1.07]],
[-4,[4.49,.3,4.622,.3,4.543,1.07]],
[-4,[5.633,.6,5.713,.6,5.703,2.05]],
[2,[.819,.3,1.351,.3,1.351,2.54,1.085,3.27,.9,2.54]],
[4,[.9,.3,1.271,.3,1.245,2.05,1.085,2.54,.952,1.8]],
[6,[.941,.3,1.191,.3,1.138,1.3,1.043,1.8,.989,1.07]],
[8,[.989,.3,1.138,.3,1.074,1.07]],
[2,[1.83,.3,2.335,.3,2.309,2.78,2.043,3.41,1.883,2.54]],
[4,[1.856,.3,2.282,.3,2.255,2.05,2.043,2.54,1.91,1.8]],
[6,[1.91,.3,2.229,.3,2.176,1.56,2.043,1.95,1.947,1.17]],
[8,[1.926,.3,2.191,.3,2.122,1.3,1.979,1.17]],
[10,[1.947,.3,2.149,.3,2.043,1.07]],
[2,[2.777,.3,3.346,.3,3.346,3.02,3.053,3.6,2.867,2.78]],
[4,[2.814,.3,3.319,.3,3.293,2.3,3.053,2.78,2.894,2.05]],
[6,[2.84,.3,3.293,.3,3.266,1.65,3.08,2.15,2.92,1.56]],
[8,[3,.3,3.24,.3,3.186,1.3,3.08,1.46]],
[2,[3.798,.3,4.41,.3,4.41,3.02,4.09,3.9,3.878,2.78]],
[4,[3.824,.3,4.356,.3,4.356,2.54,4.09,3.12,3.904,2.3]],
[6,[3.862,.3,4.319,.3,4.303,1.8,4.09,2.15,3.93,1.56]],
[8,[3.894,.3,4.277,.3,4.25,1.3,4.09,1.56,3.957,1.2]],
[2,[4.809,.3,5.367,.3,5.367,2.78,5.074,3.76,4.888,2.78]],
[4,[4.835,.3,5.34,.3,5.314,2.3,5.074,2.93,4.915,2.05]],
[6,[4.915,.3,5.287,.3,5.26,1.8,5.074,2.15,4.942,1.56]],
[8,[4.968,.3,5.234,.3,5.207,1.07,5.074,1.46,4.995,1.07]],
[2,[5.766,.3,5.82,.3,5.82,1.56]]];
const b62Hatch=[];
const b62Iso=[[.633,17.2,1.085,17.66,1.457,17.2,1.564,20.8,1.67,17.9,1.99,17.9,2.2,18.05,2.47,16.8,3.27,17.3,3.8,16.7,4.86,16.9,5.82,16.8],[.739,.3,.739,3.27,.846,4.5],[1.404,.3,1.457,4.5],[1.766,.3,1.777,4,1.936,5,2.415,5.2,2.548,6.44,2.468,4,2.388,.3],[2.707,.3,2.76,4,3,5.2,3.532,5.46,3.4,3.76,3.383,.3],[3.745,.3,3.77,3,3.93,5,4.277,5.7,4.49,5,4.426,.3],[4.755,.3,4.78,4,4.97,6,5.394,7.41,5.553,7.17,5.553,5.46,5.473,3.5,5.473,.3]];
const b62AltYear=[1.404,2.415,3.457,4.404,5.356];
const b62AltDepth=[4.24,4.49,6.3,5.8,7.41];
const b62AltTop=[3.12,3.12,5.12,5.12,5.12];
const b62AltBase=[5.12,5.12,7.6,7.6,7.6];
const b62AltText=['4.2','4.4','6.2','5.8','7.3'];
const b62LabelDx=[-41,-32,-31,-26,-22];
const b62LabelDy=[2.5,3.5,1.5,3,20];

/* Borehole 6-4 */
const b64XTicks=[2016,2017,2018,2019,2020,2021,2022];
const b64YTicks=[0,5,10,15,20,25,30,35,40];
const b64YMinor=[2.5,7.5,12.5,17.5,22.5,27.5,32.5,37.5];
const b64Knots=[0,40];
const b64KnotPos=[0,1];
const b64Talik=[1.02,25.2,1.57,2.27];
const b64Bands=[[-0.5,[.5,.15,5.82,.15,5.82,35,.5,35]],
[0.5,[.5,.15,5.82,.15,5.82,16.96,5.35,16.96,5.03,16.1,4.55,16.4,4.34,14.64,4.07,14.35,3.6,16.1,3.33,14.64,3.1,15.8,3.01,13.8,2.9,11.75,2.85,12.6,2.69,12,2.11,11.17,1.95,9.9,1.15,10,.99,8.56,.5,9.3]],
[0.5,[2.39,23.6,2.59,22.86,2.85,23,2.9,25.35,2.85,27.4,2.44,27.1]],
[0.5,[3.06,23.6,3.86,22.57,4.13,23.9,4.15,27.1,3.76,27.66,3.06,27.1]],
[0.5,[4.34,23.9,4.71,22.3,5.03,22.74,5.82,21.6,5.82,27.8,5.03,27.4,4.4,27.4]],
[0.5,[3.33,33.16,3.65,33.16,3.65,35,3.33,35]],
[0.5,[3.99,33.16,4.07,33.16,4.07,35,3.99,35]],
[-0.5,[.5,.15,.83,.15,.94,3.9,.78,4.1,.5,3]],
[-0.5,[1.41,.15,1.84,.15,1.86,3.94,1.73,4.05,1.57,2.8]],
[-0.5,[2.43,.15,2.85,.15,2.8,2.8,2.67,3.65]],
[-0.5,[3.38,.15,3.81,.15,3.76,3.94,3.65,3.94]],
[-0.5,[4.39,.15,4.77,.15,4.77,4.22,4.61,3.94]],
[-0.5,[5.46,.15,5.82,.15,5.82,3.82,5.62,3.36]],
[-2,[.51,.15,.78,.15,.78,3.07,.56,2.5]],
[-2,[1.47,.15,1.79,.15,1.84,2.5,1.63,1.9]],
[-2,[2.48,.15,2.74,.15,2.64,3.36]],
[-2,[3.44,.15,3.7,.15,3.65,2.5,3.49,1.9]],
[-2,[4.45,.15,4.71,.15,4.66,3.07,4.5,1.9]],
[-2,[5.51,.15,5.82,.15,5.82,3.36,5.62,2.5]],
[-4,[5.48,.15,5.72,.15,5.62,1.33]],
[-4,[3.44,.15,3.6,.15,3.49,1.33]],
[2,[.83,.15,1.41,.15,1.36,3.9,1.1,4.8,.94,3.9]],
[4,[.88,.15,1.36,.15,1.31,3.65,1.1,4.5,.97,3.36]],
[6,[.94,.15,1.31,.15,1.29,3.07,1.1,3.65,.99,2.5]],
[8,[.97,.15,1.22,.15,1.2,2.2,1.1,2.5]],
[10,[1.01,.15,1.18,.15,1.1,1.62]],
[2,[1.84,.15,2.48,.15,2.43,3.9,2.11,5,1.95,3.9]],
[4,[1.89,.15,2.39,.15,2.35,3.65,2.11,4.2,1.97,3.36]],
[6,[1.93,.15,2.32,.15,2.29,2.8,2.11,3.36,2,2.5]],
[8,[1.95,.15,2.27,.15,2.21,1.9,2.11,2.5]],
[10,[1.98,.15,2.24,.15,2.11,1.62]],
[2,[2.85,.15,3.44,.15,3.41,3.9,3.12,4.8,2.96,3.65]],
[4,[2.9,.15,3.35,.15,3.33,3.36,3.12,3.94,3,2.8]],
[6,[2.93,.15,3.31,.15,3.28,2.5,3.12,3.07,3.01,1.9]],
[8,[2.96,.15,3.24,.15,3.2,1.9,3.12,2.2]],
[10,[3,.15,3.2,.15,3.1,1.62]],
[2,[3.81,.15,4.4,.15,4.4,3.9,4.07,5,3.91,3.9]],
[4,[3.84,.15,4.34,.15,4.31,3.47,4.07,4.2,3.95,3.07]],
[6,[3.86,.15,4.29,.15,4.23,2.8,4.07,3.36,3.97,2.2]],
[8,[3.88,.15,4.27,.15,4.21,1.9,4.07,2.5,3.97,1.5]],
[10,[3.91,.15,4.23,.15,4.07,1.9]],
[2,[4.77,.15,5.4,.15,5.4,3.65,5.09,4.63,4.87,3.65]],
[4,[4.82,.15,5.35,.15,5.33,3.36,5.09,3.94,4.9,2.8]],
[6,[4.84,.15,5.3,.15,5.24,2.5,5.09,3.07,4.95,1.9]],
[8,[4.85,.15,5.14,.15,5.12,1.62,5.01,2.2]],
[10,[4.87,.15,5.09,.15,4.98,1.5]]];
const b64Hatch=[];
const b64Iso=[[.51,1.62,.62,3.07,.78,3.47],[1.41,.15,1.57,2.8,1.73,4.05,1.86,3.94,1.79,1.62],[2.43,.15,2.67,3.65,2.8,2.8],[3.38,.15,3.65,3.94,3.76,3.94,3.65,1.62],[4.39,.15,4.61,3.94,4.77,4.22,4.71,1.62],[5.46,.15,5.62,3.36,5.82,3.82],
[.5,9.3,.99,8.56,1.15,10,1.95,9.9,2.11,11.17,2.69,12,2.85,12.6,2.9,11.75,3.01,13.8,3.1,15.8,3.33,14.64,3.6,16.1,4.07,14.35,4.34,14.64,4.55,16.4,5.03,16.1,5.35,16.96,5.82,16.96],
[2.39,23.6,2.59,22.86,2.85,23,2.9,25.35,2.85,27.4,2.44,27.1,2.39,23.6],[3.06,23.6,3.86,22.57,4.13,23.9,4.15,27.1,3.76,27.66,3.06,27.1,3.06,23.6],[5.82,21.6,5.03,22.74,4.71,22.3,4.34,23.9,4.4,27.4,5.03,27.4,5.82,27.8],[3.33,35,3.33,33.16,3.65,33.16,3.65,35],[3.99,35,3.99,33.16,4.07,33.16,4.07,35],[.5,32.8,.56,35]];
const b64AltYear=[1.8,2.6,3.77,4.73,5.52];
const b64AltDepth=[11.63,14.35,17,17.4,17.4];
const b64AltTop=[10,12.56,15.05,15.05,15.05];
const b64AltBase=[12.56,15.05,17.5,17.5,17.5];
const b64AltText=['11.6','14.4','17.0','17.4','17.4'];
const b64LabelDx=[-43,-36,-37,-25,-19];
const b64LabelDy=[5.5,2,5,16,20];

/* Borehole 7-2 */
const b72XTicks=[2011,2012,2013,2014,2015,2016,2017,2018];
const b72YTicks=[0,5,10,35,40];
const b72YMinor=[2.5,7.5,37.5];
const b72Knots=[0,5,10,35,40];
const b72KnotPos=[0,.283,.564,.719,1];
const b72Bands=[[-0.5,[.348,.1,6.555,.1,6.555,40,.348,40]],
[-2,[.435,.05,.933,.05,.958,4.42,.908,6.2,.908,8.3,.808,8.35,.784,6.1,.535,5.7,.46,2.62]],
[-2,[1.368,.05,1.866,.05,1.903,4.42,1.803,5.9,1.617,5.46,1.493,2.88]],
[-2,[2.363,.05,2.923,.05,2.948,5.46,2.861,6.03,2.674,5.7,2.55,4.42,2.488,2.1]],
[-2,[3.358,.05,3.856,.05,3.98,8.3,3.856,8.6,3.694,8.35,3.644,5.46,3.483,2.88]],
[-2,[4.415,.05,4.851,.05,5.1,6.2,5.1,8.15,4.913,8.35,4.851,6.75,4.602,5.7,4.478,3.4]],
[-2,[5.348,.05,5.908,.05,5.846,2.36,5.41,2.36]],
[-2,[6.344,.05,6.555,.05,6.555,1.34,6.406,1.34]],
[-4,[.435,.1,.746,.1,.56,1.34]],
[-4,[1.306,.1,1.679,.1,1.617,.95]],
[-4,[2.363,.1,2.799,.1,2.799,1.2,2.425,1.08]],
[-4,[3.358,.1,3.769,.1,3.669,1.72,3.42,1.34]],
[-4,[4.415,.1,4.726,.1,4.602,.95]],
[-6,[3.483,.1,3.669,.1,3.545,.7]],
[-6,[.46,.1,.66,.1,.56,.7]],
[6,[.87,.1,1.12,.1,.995,.7]],
[4,[1.866,.1,2.177,.1,2.05,1.08]],
[6,[2.92,.1,3.17,.1,3.02,.95]],
[4,[3.92,.1,4.17,.1,4.02,.95]],
[6,[5.01,.1,5.22,.1,5.12,1.2]],
[4,[5.97,.1,6.16,.1,6.06,1.34]]];
const b72Hatch=[[2.9,3.21,3.4,40],[4.2,4.94,.3,40],[3.21,4.2,37.1,40]];
const b72Iso=[[1.8,.1,1.99,1.3],[2.28,.1,2.24,1.3],[2.86,.1,3.07,1.3],[3.27,.1,3.2,1.2],[3.86,.1,4.1,1.3],[4.35,.1,4.27,1.2]];
const b72AltYear=[1.18,2.15,3.13,4.22,5.21,6.14];
const b72AltDepth=[1.47,1.85,1.8,1.75,1.52,1.6];
const b72AltTop=[1,1.5,1.5,1.5,1.3,1.34];
const b72AltBase=[1.52,2.06,2.06,2.06,2.06,2.06];
const b72AltText=['1.5','1.9','1.8','1.8','1.5','1.6'];
const b72LabelDx=[-39,-17,-19,-20,36,36];
const b72LabelDy=[6,19.5,18.5,16,1.5,2];

const fig=document.getElementById('fig');
const NS='http://www.w3.org/2000/svg';
function mk(tag,attrs,parent,txt){
  const e=document.createElementNS(NS,tag);
  for(const k in attrs)e.setAttribute(k,attrs[k]);
  if(txt!==undefined)e.textContent=txt;
  parent.appendChild(e);
  return e;
}
function bandColor(temp){
  let best=0;
  legendTemps.forEach((v,i)=>{if(Math.abs(v-temp)<Math.abs(legendTemps[best]-temp))best=i;});
  return legendColors[best];
}
function drawPanel(p){
  const h=312.6;
  const yb=p.top+h;
  const xs=t=>p.ax+t*p.w;
  const ys=d=>{
    const K=p.knots,F=p.pos;
    let i=0;
    while(i<K.length-2&&d>K[i+1])i++;
    return p.top+h*(F[i]+(d-K[i])/(K[i+1]-K[i])*(F[i+1]-F[i]));
  };
  const pts=a=>{let s=[];for(let i=0;i<a.length;i+=2)s.push(xs(a[i]).toFixed(1)+','+ys(a[i+1]).toFixed(1));return s.join(' ');};
  const g=mk('g',{},fig);
  
  
  p.bands.forEach(b=>{
    const c=bandColor(b[0]);
    const el=mk('polygon',{points:pts(b[1]),fill:c,stroke:c,'stroke-width':.4},g);
    
    
  });
  p.hatch.forEach(b=>{
    const el=mk('rect',{x:xs(b[0]),y:ys(b[2]),width:xs(b[1])-xs(b[0]),height:ys(b[3])-ys(b[2]),fill:'url(#hatch)'},g);
    
    
  });
  p.iso.forEach(a=>{
    const el=mk('polyline',{points:pts(a),fill:'none',stroke:'#2a2a2a','stroke-width':p.isoW||1.4,'stroke-dasharray':'6 4'},g);
    
    
  });
  const gridStyle={stroke:'#cfcbc8','stroke-width':3,'stroke-dasharray':'14 11',fill:'none'};
  p.yTicks.slice(0,-1).forEach(v=>{
    const y=ys(v);
    const el=mk('line',Object.assign({x1:p.ax+25,x2:p.ax+583,y1:y,y2:y},gridStyle),g);
    
    
  });
  const start=p.xTicks[0];
  p.xTicks.slice(1).forEach(v=>{
    const x=xs(v-start);
    const el=mk('line',Object.assign({x1:x,x2:x,y1:p.top,y2:yb-27},gridStyle),g);
    
    
  });
  const ax=mk('g',{stroke:'#000','stroke-width':1.3,fill:'none'},g);
  
  
  mk('line',{x1:p.ax,x2:p.ax,y1:p.top,y2:yb+26},ax);
  mk('line',{x1:p.ax-19.6,x2:p.ax+597,y1:yb,y2:yb},ax);
  p.yTicks.forEach(v=>{
    const y=ys(v);
    const el=mk('line',{x1:p.ax-19.6,x2:p.ax+20,y1:y,y2:y},ax);
    
    
    const t=mk('text',{x:p.ax-54,y:y+9.5,'text-anchor':'end','font-size':27},g,String(v));
    
    
  });
  p.yMinor.forEach(v=>{
    const y=ys(v);
    const el=mk('line',{x1:p.ax,x2:p.ax+13.7,y1:y,y2:y},ax);
    
    
  });
  const step=p.xTicks.length>1?p.xTicks[1]-p.xTicks[0]:1;
  for(let t=step/4;xs(t)<=p.ax+597.5;t+=step/4){
    if(Math.abs(t/step-Math.round(t/step))<1e-6)continue;
    const el=mk('line',{x1:xs(t),x2:xs(t),y1:yb,y2:yb+12.6},ax);
    
    
  }
  p.xTicks.forEach((v,i)=>{
    const x=xs(v-start);
    if(i>0){
      const el=mk('line',{x1:x,x2:x,y1:yb-27,y2:yb+26},ax);
      
      
    }
    const last=p.clipLast&&i===p.xTicks.length-1;
    const t=mk('text',{x:last?x:x,y:yb+75.5,'text-anchor':last?'end':'middle','font-size':27},g,last?String(v).slice(0,2):String(v));
    
    
  });
  if(p.breakFrac!==undefined){
    const y=p.top+h*p.breakFrac;
    const el=mk('polygon',{points:[[p.ax-21,y+3],[p.ax+20,y-3],[p.ax+20,y-7],[p.ax-21,y-1]].map(a=>a.join(',')).join(' '),fill:'#fff',stroke:'#000','stroke-width':1},g);
    
    
  }
  const yl=mk('text',{x:0,y:0,'text-anchor':'middle','font-size':27,transform:'translate('+(p.ax-105)+','+(p.top+h/2)+') rotate(-90)'},g,'Depth (m)');
  
  
  const ti=mk('text',{x:p.titleX,y:p.top-16.5,'text-anchor':'middle','font-size':27},g,p.title);
  
  
  p.altYear.forEach((t,i)=>{
    const x=xs(t),y=ys(p.altDepth[i]);
    const lx=x+p.dx[i],ly=y+p.dy[i];
    const wBox=p.altText[i].length>3?52:38;
    const bx=mk('rect',{x:lx-wBox/2,y:ly-17,width:wBox,height:34,fill:'#fff','fill-opacity':.18},g);
    
    
    [p.altTop[i],p.altBase[i]].forEach(d=>{
      const el=mk('line',{x1:x-15.3,x2:x+15.3,y1:ys(d),y2:ys(d),stroke:'#000','stroke-width':2.6},g);
      
      
    });
    const c=mk('circle',{cx:x,cy:y,r:5.7,fill:'#000',stroke:'#fff','stroke-width':1},g);
    
    
    const l=mk('text',{x:lx,y:ly+9.5,'text-anchor':'middle','font-size':27},g,p.altText[i]);
    
    
  });
  if(p.talik){
    const [tt,td,t1,t2]=p.talik;
    const y=ys(td);
    const l=mk('text',{x:xs(tt),y:y+9.5,'text-anchor':'middle','font-size':27},g,'Talik');
    
    
    const ar=mk('line',{x1:xs(t1),x2:xs(t2)-8,y1:y,y2:y,stroke:'#000','stroke-width':1.4},g);
    
    
    const tip=xs(t2);
    const hd=mk('polygon',{points:[tip,y,tip-26,y-9,tip-19,y,tip-26,y+9].join(' ').replace(/(\S+) (\S+) (\S+) (\S+) (\S+) (\S+) (\S+) (\S+)/,'$1,$2 $3,$4 $5,$6 $7,$8'),fill:'#000'},g);
    
    
  }
}
function drawLegend(x0,yTitle,yBar,yLabel){
  const g=mk('g',{},fig);
  
  
  const cw=25.15;
  legendColors.forEach((c,i)=>{
    const r=mk('rect',{x:x0+i*cw,y:yBar,width:cw+.3,height:26.3,fill:c},g);
    
    
  });
  const z=mk('line',{x1:x0+9*cw,x2:x0+9*cw,y1:yBar,y2:yBar+30,stroke:'#000','stroke-width':1.6,'stroke-dasharray':'4 3'},g);
  
  
  const t=mk('text',{x:x0+214,y:yTitle+9.5,'text-anchor':'middle','font-size':27},g);
  
  
  mk('tspan',{},t,'Ground Temperature (');
  mk('tspan',{dy:-9,'font-size':16},t,'o');
  mk('tspan',{dy:9},t,'C)');
  legendTicks.forEach((s,i)=>{
    const l=mk('text',{x:x0+21+i*50.4,y:yLabel+9.5,'text-anchor':'middle','font-size':27},g,s);
    
    
  });
}
const panels=[
{title:'Borehole 1-2',titleX:390,ax:157.2,top:66,w:422.5,xTicks:b12XTicks,yTicks:b12YTicks,yMinor:b12YMinor,knots:b12Knots,pos:b12KnotPos,bands:b12Bands,hatch:b12Hatch,iso:b12Iso,isoW:2,altYear:b12AltYear,altDepth:b12AltDepth,altTop:b12AltTop,altBase:b12AltBase,altText:b12AltText,dx:b12LabelDx,dy:b12LabelDy},
{title:'Borehole 1-8',titleX:1265,ax:1032.2,top:66,w:422.5,xTicks:b18XTicks,yTicks:b18YTicks,yMinor:b18YMinor,knots:b18Knots,pos:b18KnotPos,bands:b18Bands,hatch:b18Hatch,iso:b18Iso,isoW:2.6,altYear:b18AltYear,altDepth:b18AltDepth,altTop:b18AltTop,altBase:b18AltBase,altText:b18AltText,dx:b18LabelDx,dy:b18LabelDy},
{title:'Borehole 2-1',titleX:387.5,ax:155.6,top:511,w:247.2,breakFrac:.643,xTicks:b21XTicks,yTicks:b21YTicks,yMinor:b21YMinor,knots:b21Knots,pos:b21KnotPos,bands:b21Bands,hatch:b21Hatch,iso:b21Iso,altYear:b21AltYear,altDepth:b21AltDepth,altTop:b21AltTop,altBase:b21AltBase,altText:b21AltText,dx:b21LabelDx,dy:b21LabelDy},
{title:'Borehole 2-3',titleX:1265,ax:1031.7,top:511,w:174.7,breakFrac:.643,xTicks:b23XTicks,yTicks:b23YTicks,yMinor:b23YMinor,knots:b23Knots,pos:b23KnotPos,bands:b23Bands,hatch:b23Hatch,iso:b23Iso,altYear:b23AltYear,altDepth:b23AltDepth,altTop:b23AltTop,altBase:b23AltBase,altText:b23AltText,dx:b23LabelDx,dy:b23LabelDy},
{title:'Borehole 2-10',titleX:404,ax:155.6,top:957.4,w:199.2,breakFrac:.502,xTicks:b210XTicks,yTicks:b210YTicks,yMinor:b210YMinor,knots:b210Knots,pos:b210KnotPos,bands:b210Bands,hatch:b210Hatch,iso:b210Iso,isoW:2.6,altYear:b210AltYear,altDepth:b210AltDepth,altTop:b210AltTop,altBase:b210AltBase,altText:b210AltText,dx:b210LabelDx,dy:b210LabelDy},
{title:'Borehole 3-1',titleX:1262.5,ax:1030.6,top:956.8,w:63.4,breakFrac:.6,xTicks:b31XTicks,yTicks:b31YTicks,yMinor:b31YMinor,knots:b31Knots,pos:b31KnotPos,bands:b31Bands,hatch:b31Hatch,iso:b31Iso,altYear:b31AltYear,altDepth:b31AltDepth,altTop:b31AltTop,altBase:b31AltBase,altText:b31AltText,dx:b31LabelDx,dy:b31LabelDy},
{title:'Borehole 3-2',titleX:405.5,ax:157.2,top:1400.6,w:119.4,breakFrac:.6,xTicks:b32XTicks,yTicks:b32YTicks,yMinor:b32YMinor,knots:b32Knots,pos:b32KnotPos,bands:b32Bands,hatch:b32Hatch,iso:b32Iso,altYear:b32AltYear,altDepth:b32AltDepth,altTop:b32AltTop,altBase:b32AltBase,altText:b32AltText,dx:b32LabelDx,dy:b32LabelDy},
{title:'Borehole 3-5',titleX:1264.6,ax:1031.7,top:1400.6,w:110.2,xTicks:b35XTicks,yTicks:b35YTicks,yMinor:b35YMinor,knots:b35Knots,pos:b35KnotPos,bands:b35Bands,hatch:b35Hatch,iso:b35Iso,altYear:b35AltYear,altDepth:b35AltDepth,altTop:b35AltTop,altBase:b35AltBase,altText:b35AltText,dx:b35LabelDx,dy:b35LabelDy},
{title:'Borehole 3-6',titleX:390,ax:157.2,top:1844.3,w:63.5,xTicks:b36XTicks,yTicks:b36YTicks,yMinor:b36YMinor,knots:b36Knots,pos:b36KnotPos,bands:b36Bands,hatch:b36Hatch,iso:b36Iso,altYear:b36AltYear,altDepth:b36AltDepth,altTop:b36AltTop,altBase:b36AltBase,altText:b36AltText,dx:b36LabelDx,dy:b36LabelDy},
{title:'Borehole 3-8',titleX:1272,ax:1031.7,top:1844.3,w:93.06,breakFrac:.58,xTicks:b38XTicks,yTicks:b38YTicks,yMinor:b38YMinor,knots:b38Knots,pos:b38KnotPos,bands:b38Bands,hatch:b38Hatch,iso:b38Iso,altYear:b38AltYear,altDepth:b38AltDepth,altTop:b38AltTop,altBase:b38AltBase,altText:b38AltText,dx:b38LabelDx,dy:b38LabelDy},
{title:'Borehole 3-9',titleX:400,ax:159.3,top:2431.7,w:85.3,breakFrac:.58,xTicks:b39XTicks,yTicks:b39YTicks,yMinor:b39YMinor,knots:b39Knots,pos:b39KnotPos,bands:b39Bands,hatch:b39Hatch,iso:b39Iso,altYear:b39AltYear,altDepth:b39AltDepth,altTop:b39AltTop,altBase:b39AltBase,altText:b39AltText,dx:b39LabelDx,dy:b39LabelDy},
{title:'Borehole 3-11',titleX:1270,ax:1031.7,top:2431.7,w:63.5,breakFrac:.58,xTicks:b311XTicks,yTicks:b311YTicks,yMinor:b311YMinor,knots:b311Knots,pos:b311KnotPos,bands:b311Bands,hatch:b311Hatch,iso:b311Iso,altYear:b311AltYear,altDepth:b311AltDepth,altTop:b311AltTop,altBase:b311AltBase,altText:b311AltText,dx:b311LabelDx,dy:b311LabelDy},
{title:'Borehole 5-1',titleX:402,ax:155.6,top:2876.6,w:298.3,xTicks:b51XTicks,yTicks:b51YTicks,yMinor:b51YMinor,knots:b51Knots,pos:b51KnotPos,bands:b51Bands,hatch:b51Hatch,iso:b51Iso,altYear:b51AltYear,altDepth:b51AltDepth,altTop:b51AltTop,altBase:b51AltBase,altText:b51AltText,dx:b51LabelDx,dy:b51LabelDy},
{title:'Borehole 5-2',titleX:1267,ax:1034.3,top:2875.4,w:110.2,breakFrac:.56,xTicks:b52XTicks,yTicks:b52YTicks,yMinor:b52YMinor,knots:b52Knots,pos:b52KnotPos,bands:b52Bands,hatch:b52Hatch,iso:b52Iso,altYear:b52AltYear,altDepth:b52AltDepth,altTop:b52AltTop,altBase:b52AltBase,altText:b52AltText,dx:b52LabelDx,dy:b52LabelDy},
{title:'Borehole 5-3',titleX:388,ax:155.6,top:3320.4,w:135.3,breakFrac:.56,xTicks:b53XTicks,yTicks:b53YTicks,yMinor:b53YMinor,knots:b53Knots,pos:b53KnotPos,bands:b53Bands,hatch:b53Hatch,iso:b53Iso,altYear:b53AltYear,altDepth:b53AltDepth,altTop:b53AltTop,altBase:b53AltBase,altText:b53AltText,dx:b53LabelDx,dy:b53LabelDy},
{title:'Borehole 5-4',titleX:1266,ax:1033.3,top:3322.4,w:135.3,breakFrac:.641,xTicks:b54XTicks,yTicks:b54YTicks,yMinor:b54YMinor,knots:b54Knots,pos:b54KnotPos,bands:b54Bands,hatch:b54Hatch,iso:b54Iso,altYear:b54AltYear,altDepth:b54AltDepth,altTop:b54AltTop,altBase:b54AltBase,altText:b54AltText,dx:b54LabelDx,dy:b54LabelDy},
{title:'Borehole 6-1',titleX:402,ax:155.6,top:3764.3,w:99.6,talik:b61Talik,xTicks:b61XTicks,yTicks:b61YTicks,yMinor:b61YMinor,knots:b61Knots,pos:b61KnotPos,bands:b61Bands,hatch:b61Hatch,iso:b61Iso,altYear:b61AltYear,altDepth:b61AltDepth,altTop:b61AltTop,altBase:b61AltBase,altText:b61AltText,dx:b61LabelDx,dy:b61LabelDy},
{title:'Borehole 6-2',titleX:1282,ax:1034.3,top:3764.3,w:99.6,clipLast:true,xTicks:b62XTicks,yTicks:b62YTicks,yMinor:b62YMinor,knots:b62Knots,pos:b62KnotPos,bands:b62Bands,hatch:b62Hatch,iso:b62Iso,altYear:b62AltYear,altDepth:b62AltDepth,altTop:b62AltTop,altBase:b62AltBase,altText:b62AltText,dx:b62LabelDx,dy:b62LabelDy},
{title:'Borehole 6-4',titleX:404.6,ax:155.7,top:4209.3,w:99.6,talik:b64Talik,xTicks:b64XTicks,yTicks:b64YTicks,yMinor:b64YMinor,knots:b64Knots,pos:b64KnotPos,bands:b64Bands,hatch:b64Hatch,iso:b64Iso,altYear:b64AltYear,altDepth:b64AltDepth,altTop:b64AltTop,altBase:b64AltBase,altText:b64AltText,dx:b64LabelDx,dy:b64LabelDy},
{title:'Borehole 7-2',titleX:1279.7,ax:1032.8,top:4207.5,w:85.2,breakFrac:.641,clipLast:true,xTicks:b72XTicks,yTicks:b72YTicks,yMinor:b72YMinor,knots:b72Knots,pos:b72KnotPos,bands:b72Bands,hatch:b72Hatch,iso:b72Iso,altYear:b72AltYear,altDepth:b72AltDepth,altTop:b72AltTop,altBase:b72AltBase,altText:b72AltText,dx:b72LabelDx,dy:b72LabelDy}
];
panels.forEach(drawPanel);
drawLegend(606,2292,2311,2355);
drawLegend(622,4657.7,4676.7,4719.7);
</script>
</body>
</html>
